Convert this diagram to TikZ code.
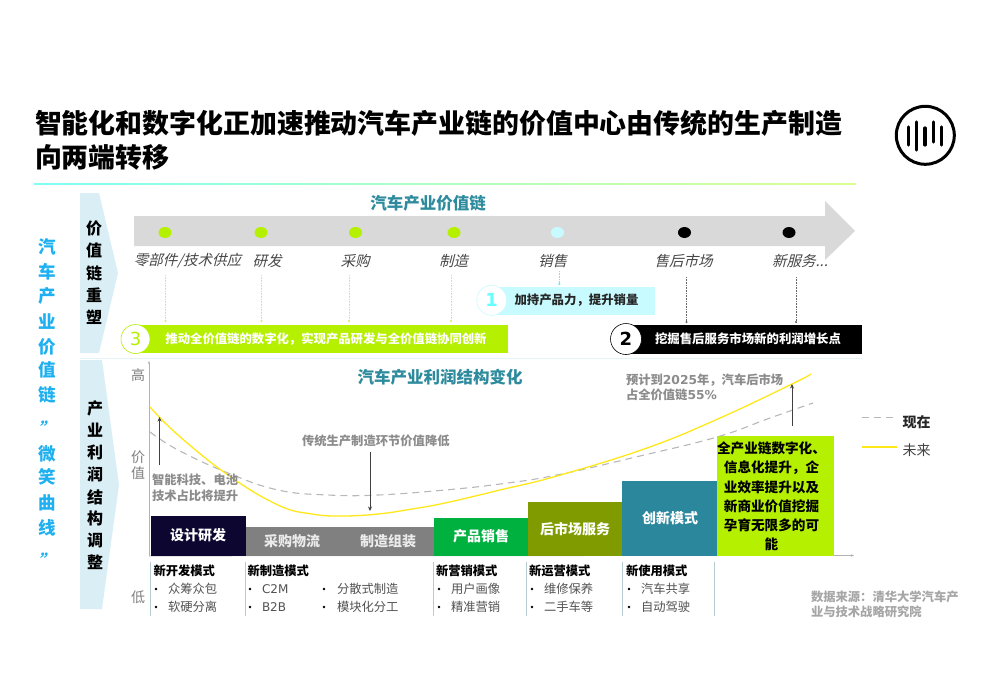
\documentclass[tikz,border=0pt]{standalone}
\usepackage{fontspec}
\setmainfont{Noto Sans CJK SC}
\newfontfamily\latf{DejaVu Sans}
\newfontfamily\cjkit[FakeSlant=0.25]{Noto Sans CJK SC}
\usetikzlibrary{arrows.meta,shapes.geometric}
\definecolor{lime}{HTML}{B5F000}
\definecolor{pcyan}{HTML}{C8FBFF}
\definecolor{tealt}{HTML}{2E8B9E}
\definecolor{chev}{HTML}{D9EFF5}
\definecolor{sky}{HTML}{1EB0F0}
\definecolor{curvey}{HTML}{FFE81A}
\definecolor{dgrey}{HTML}{8C8C8C}
\definecolor{navybar}{HTML}{0D0630}
\definecolor{greenbar}{HTML}{00B140}
\definecolor{olivebar}{HTML}{7F9B00}
\definecolor{tealbar}{HTML}{2A879C}
\definecolor{ruleL}{HTML}{7FFFF5}
\definecolor{ruleR}{HTML}{DDFF90}
\definecolor{bcyan}{HTML}{66FFFF}
\definecolor{leadlime}{HTML}{D4F060}
\definecolor{leadcyan}{HTML}{66EEF5}
\newcommand{\fsz}[1]{\fontsize{#1}{#1}\selectfont}
\tikzset{
 txt/.style={inner sep=0pt,outer sep=0pt,align=center},
 lft/.style={txt,anchor=west,align=left},
 head/.style={txt,font=\fsz{16.5}\bfseries,text=tealt},
 stage/.style={txt,font=\cjkit\fsz{14.5},text=black!72},
 side/.style={txt,font=\fsz{16}\bfseries},
 axl/.style={txt,font=\fsz{14},text=black!50},
 note/.style={lft,font=\fsz{12.3}\bfseries,text=dgrey},
 barlab/.style={txt,font=\fsz{14}\bfseries,text=white},
 mode/.style={lft,font=\fsz{12.3}\bfseries,text=black},
 item/.style={lft,font=\fsz{12.3},text=black!68},
 leader/.style={densely dotted,line width=0.6pt},
 sep/.style={line width=0.9pt,color=chev!70!white},
 blackarrow/.style={line width=1pt,black!75,-{Stealth[length=4.5pt,width=4pt]}},
 axis/.style={line width=0.6pt,black!30,-{Stealth[length=3pt,width=2.5pt]}},
 future/.style={line width=1.3pt,curvey},
 present/.style={line width=1.1pt,black!28,dash pattern=on 7pt off 5pt},
}
\begin{document}
\begin{tikzpicture}[x=1pt,y=-1pt]
\useasboundingbox (0,0) rectangle (987,696);
\fill[white] (0,0) rectangle (987,696);
% title
\node[lft,font=\fsz{26.9}\bfseries] (t1) at (35,123) {智能化和数字化正加速推动汽车产业链的价值中心由传统的生产制造};
\node[lft,font=\fsz{26.9}\bfseries] (t2) at (35,157) {向两端转移};
\shade[left color=ruleL,right color=ruleR] (34,183.4) rectangle (856,184.8);
% logo
\draw[line width=3pt] (925.3,135.3) circle[radius=29];
\foreach \x/\ya/\yb in {908.3/127/145,916.7/122/150,925/128/145,933.3/122/142,941.7/127/145}
  \draw[line width=3.2pt,line cap=round] (\x,\ya) -- (\x,\yb);
% left column
\foreach \y/\t in {247/汽,272/车,296/产,322/业,347/价,370/值,395/链,454/微,477/笑,503/曲,528/线}
  \node[txt,font=\fsz{17.5}\bfseries,text=sky] at (47.5,\y) {\t};
\foreach \y in {428,560}
  \node[txt,font=\cjkit\fsz{17}\bfseries,text=sky] at (46,\y) {”};
% chevrons
\fill[chev] (80,193) -- (99,193) -- (118,273) -- (99,353) -- (80,353) -- cycle;
\fill[chev] (80,360) -- (102,360) -- (119,485) -- (102,609) -- (80,609) -- cycle;
\foreach \y/\t in {228/价,250/值,273/链,295/重,317/塑}
  \node[side] at (94,\y) {\t};
\foreach \y/\t in {408/产,430/业,452/利,474/润,497/结,518/构,540/调,562/整}
  \node[side] at (95,\y) {\t};
% value chain arrow
\fill[black!15] (134,216) -- (825,216) -- (825,201) -- (855,231) -- (825,260) -- (825,246) -- (134,246) -- cycle;
\node[head] (vc) at (428,203) {汽车产业价值链};
\foreach \x/\col in {165/lime,261/lime,355.5/lime,454/lime,557.5/pcyan,684.5/black,789/black}
  \fill[\col] (\x,232.5) ellipse[x radius=6.5,y radius=5.5];
\node[stage] (s1) at (187.5,261) {零部件/技术供应};
\node[stage] (s2) at (267,261) {研发};
\node[stage] (s3) at (355,261) {采购};
\node[stage] (s4) at (453.5,261) {制造};
\node[stage] (s5) at (552.5,261) {销售};
\node[stage] (s6) at (683.5,261) {售后市场};
\node[stage] (s7) at (800,261) {新服务...};
% callout bars
\fill[lime] (137,325) rectangle (507.7,353);
\node[txt,font=\fsz{12.35}\bfseries,text=white] (b3) at (326,339) {推动全价值链的数字化，实现产品研发与全价值链协同创新};
\node[circle,draw=lime,fill=white,line width=0.6pt,minimum size=29pt,inner sep=0pt,font=\latf\fsz{18},text=lime] (c3) at (135.5,339) {3};
\fill[pcyan] (490,286.5) rectangle (654.7,315);
\node[txt,font=\fsz{12.4}\bfseries,text=black!85] (b1) at (576.5,300.5) {加持产品力，提升销量};
\node[circle,draw=pcyan,fill=white,line width=0.6pt,minimum size=30pt,inner sep=0pt,font=\latf\fsz{18}\bfseries,text=bcyan] (c1) at (491.7,300.3) {1};
\fill[black] (630,325) rectangle (862,353.5);
\node[txt,font=\fsz{12.4}\bfseries,text=white] (b2) at (748,339) {挖掘售后服务市场新的利润增长点};
\node[circle,draw=black,fill=white,line width=0.6pt,minimum size=31pt,inner sep=0pt,font=\latf\fsz{18}\bfseries,text=black] (c2) at (626,339) {2};
% leaders
\foreach \n/\x/\ya/\yb/\col in {la/165.5/275/321/leadlime,lb/261.5/275/321/leadlime,lc/349/275/321/leadlime,ld/451/275/321/leadlime,le/559.3/271/284/leadcyan,lf/686.5/277/322/black!60,lg/796/277/322/black!60}{
  \coordinate (\n1) at (\x,\ya);
  \coordinate (\n2) at (\x,\yb);
  \draw[leader,draw=\col] (\n1) -- (\n2);
  \fill[\col] (\n2) circle[radius=1.2];
}
\draw[sep] (80,358) -- (862,358);
% axes
\coordinate (o) at (149,556);
\coordinate (ytop) at (149,361);
\coordinate (xend) at (854,555.5);
\draw[axis] (o) -- (ytop);
\draw[axis] (o) -- (xend);
\node[axl] at (138,375) {高};
\node[axl] at (138,457) {价};
\node[axl] at (138,473) {值};
\node[axl] at (138,597) {低};
\node[head] (pc) at (440,377) {汽车产业利润结构变化};
% bars
\fill[black!50] (245,527) rectangle (434,556);
\fill[navybar] (150.5,515.5) rectangle (246,555.5);
\fill[greenbar] (434,517.5) rectangle (528,556);
\fill[olivebar] (528,502) rectangle (622,556);
\fill[tealbar] (622,481) rectangle (716.5,556);
\fill[lime] (716.5,436) rectangle (833.5,556);
\node[barlab] at (198,535) {设计研发};
\node[barlab,text=black!8] at (292,541) {采购物流};
\node[barlab,text=black!8] at (388,541) {制造组装};
\node[barlab] at (481,536.5) {产品销售};
\node[barlab] at (575,529) {后市场服务};
\node[barlab] at (670,518) {创新模式};
\foreach \y/\t in {448/全产业链数字化、,468/信息化提升，企,487/业效率提升以及,506/新商业价值挖掘,525/孕育无限多的可,544/能}
  \node[txt,font=\fsz{13.6}\bfseries,text=black] at (771.5,\y) {\t};
% curves
\draw[present] plot[smooth,tension=0.7] coordinates {(150,432) (178,450) (228,473) (278,490) (328,495) (378,495) (445,490) (500,484) (557,475) (640,456) (717,437) (770,418) (813,403)};
\draw[future] plot[smooth,tension=0.7] coordinates {(150,407) (178,435) (228,475) (278,505) (312,514) (342,516) (378,514) (412,509) (445,503) (500,490) (557,476) (647,448) (720,418) (792,384) (811,374)};
% callouts on the curves
\coordinate (a1) at (159.5,465); \coordinate (a2) at (159.5,417);
\draw[blackarrow] (a1) -- (a2);
\coordinate (b1a) at (370,452); \coordinate (b2a) at (370,511);
\draw[blackarrow] (b1a) -- (b2a);
\coordinate (d1) at (792,426); \coordinate (d2) at (792,384);
\draw[blackarrow] (d1) -- (d2);
\node[note] (n1) at (302,441) {传统生产制造环节价值降低};
\node[note] (n2) at (152,480) {智能科技、电池};
\node[note] (n3) at (152,496) {技术占比将提升};
\node[note] (n4) at (626,380) {预计到{\latf 2025}年，汽车后市场};
\node[note] (n5) at (626,395) {占全价值链{\latf 55\%}};
% legend
\coordinate (p1) at (862,417.5); \coordinate (p2) at (897,417.5);
\draw[present] (p1) -- (p2);
\coordinate (f1) at (862,447); \coordinate (f2) at (897,447);
\draw[future] (f1) -- (f2);
\node[lft,font=\fsz{14}\bfseries,text=black!85] (lg1) at (902.5,422) {现在};
\node[lft,font=\fsz{14},text=black!75] (lg2) at (902.5,450) {未来};
% lower lists
\foreach \x in {150.5,245,433,526.5,622,714}
  \draw[line width=0.9pt,color=chev!85!black] (\x,562) -- (\x,616);
\node[mode] at (153.5,571) {新开发模式};
\node[mode] at (247.5,571) {新制造模式};
\node[mode] at (436,571) {新营销模式};
\node[mode] at (529,571) {新运营模式};
\node[mode] at (626,571) {新使用模式};
\foreach \x/\y/\t in {168/589/众筹众包,168/607/软硬分离,337/589/分散式制造,337/607/模块化分工,451/589/用户画像,451/607/精准营销,544/589/维修保养,544/607/二手车等,641/589/汽车共享,641/607/自动驾驶}
  \node[item] at (\x,\y) {\t};
\node[item,font=\latf\fsz{12}] at (262,589) {C2M};
\node[item,font=\latf\fsz{12}] at (262,607) {B2B};
\foreach \x in {156,250,324,439,532,629}
  \foreach \y in {589,607}
    \fill (\x,\y) circle[radius=1.4];
% source
\node[note,text=black!35] (src1) at (811,597) {数据来源：清华大学汽车产};
\node[note,text=black!35] (src2) at (811,612) {业与技术战略研究院};
\end{tikzpicture}
\end{document}
